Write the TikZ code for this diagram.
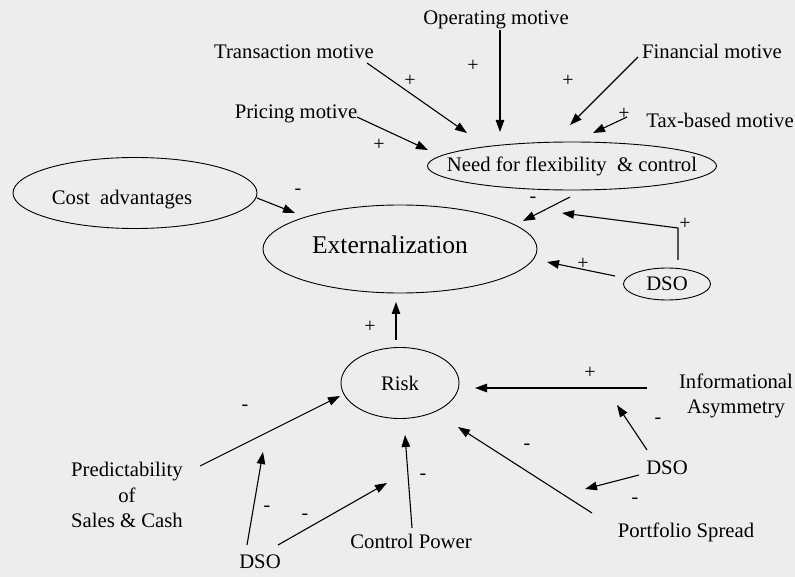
\documentclass[tikz,border=0pt]{standalone}
\usepackage{fontspec}
\setmainfont{Liberation Serif}
\usetikzlibrary{arrows.meta,shapes.geometric}
\definecolor{bgdot}{RGB}{237,237,237}
\begin{document}
\begin{tikzpicture}[x=1pt,y=-1pt,
  lbl/.style={inner sep=0pt, font=\fontsize{20.7}{25.5}\selectfont},
  oval/.style={draw, ellipse, line width=0.9pt, inner sep=-60pt, font=\fontsize{20.7}{25.5}\selectfont},
  arr/.style={-{Triangle[length=12pt,width=8.5pt]}, line width=1.1pt},
  sgn/.style={inner sep=0pt, font=\fontsize{20}{20}\selectfont}]
\fill[bgdot] (0,0) rectangle (795,577);
\useasboundingbox (0,0) rectangle (795,577);

% text nodes
\node[lbl] (op)  at (496,19.5) {Operating motive};
\node[lbl] (tr)  at (294,52)   {Transaction motive};
\node[lbl] (pr)  at (296,114)  {Pricing motive};
\node[lbl] (fi)  at (712,51)   {Financial motive};
\node[lbl] (tax) at (720,120)  {Tax-based motive};
\node[lbl, align=center] (info) at (736,396) {Informational\\Asymmetry};
\node[lbl] (dso2) at (667,468) {DSO};
\node[lbl] (port) at (686,532) {Portfolio Spread};
\node[lbl] (ctrl) at (411,541) {Control Power};
\node[lbl] (dso3) at (260,562) {DSO};
\node[lbl, align=center] (pred) at (127,495) {Predictability\\of\\Sales \& Cash};

% ellipses
\node[oval, minimum width=289pt, minimum height=48pt] (need) at (572,166) {Need for flexibility\ \ \& control};
\node[oval, minimum width=244pt, minimum height=71pt, text height=27.7pt, text depth=4.5pt] (cost) at (135,193) {Cost\ \ advantages\hspace*{26pt}};
\node[oval, minimum width=274pt, minimum height=88pt, font=\fontsize{25.5}{30}\selectfont, text height=17.4pt, text depth=8pt] (ext) at (400,249) {Externalization\hspace*{20pt}};
\node[oval, minimum width=87pt, minimum height=32pt] (dso1) at (667,284) {DSO};
\node[oval, minimum width=118pt, minimum height=71pt] (risk) at (400,383) {Risk};

% arrow end points
\coordinate (e1) at (500,132);
\coordinate (e2) at (467,133);
\coordinate (e3) at (428,150);
\coordinate (e4) at (570,125);
\coordinate (e5) at (593,133);
\coordinate (e6) at (295,213);
\coordinate (e7) at (523,221);
\coordinate (c8) at (678,228);
\coordinate (e8) at (562,213);
\coordinate (e9) at (547,262);
\coordinate (e10) at (396,302);
\coordinate (e11) at (475,388);
\coordinate (e12) at (340,396);
\coordinate (e13) at (263,452);
\coordinate (e14) at (387,483);
\coordinate (e15) at (405,435);
\coordinate (e16) at (458,427);
\coordinate (e17) at (617,405);
\coordinate (e18) at (585,489);

% arrows
\draw[arr] ([shift={(4pt,-10.5pt)}]op.center) -- (e1);
\draw[arr] ([shift={(73pt,-11pt)}]tr.center) -- (e2);
\draw[arr] ([shift={(61pt,-3pt)}]pr.center) -- (e3);
\draw[arr] ([shift={(-74pt,-6pt)}]fi.center) -- (e4);
\draw[arr] ([shift={(-93pt,3pt)}]tax.center) -- (e5);
\draw[arr] ([shift={(122pt,-5pt)}]cost.center) -- (e6);
\draw[arr] ([shift={(-2pt,-31pt)}]need.center) -- (e7);
\draw[arr] ([shift={(11pt,24pt)}]dso1.center) -- (c8) -- (e8);
\draw[arr] ([shift={(-52pt,8pt)}]dso1.center) -- (e9);
\draw[arr] ([shift={(-4pt,43pt)}]risk.center) -- (e10);
\draw[arr] ([shift={(-89pt,8pt)}]info.center) -- (e11);
\draw[arr] ([shift={(73pt,29pt)}]pred.center) -- (e12);
\draw[arr] ([shift={(-13pt,17pt)}]dso3.center) -- (e13);
\draw[arr] ([shift={(18pt,17pt)}]dso3.center) -- (e14);
\draw[arr] ([shift={(1pt,13pt)}]ctrl.center) -- (e15);
\draw[arr] ([shift={(-94pt,19pt)}]port.center) -- (e16);
\draw[arr] ([shift={(-20pt,18pt)}]dso2.center) -- (e17);
\draw[arr] ([shift={(-28pt,-7pt)}]dso2.center) -- (e18);

% signs
\node[sgn] (s1)  at (410,81)  {+};
\node[sgn] (s2)  at (473,66)  {+};
\node[sgn] (s3)  at (568,81)  {+};
\node[sgn] (s4)  at (379,145) {+};
\node[sgn] (s5)  at (624,114) {+};
\node[sgn] (s6)  at (298,192) {-};
\node[sgn] (s7)  at (533,200) {-};
\node[sgn] (s8)  at (685,224) {+};
\node[sgn] (s9)  at (583,264) {+};
\node[sgn] (s10) at (370,327) {+};
\node[sgn] (s11) at (590,373) {+};
\node[sgn] (s12) at (658,421) {-};
\node[sgn] (s13) at (527,447) {-};
\node[sgn] (s14) at (635,501) {-};
\node[sgn] (s15) at (423,477) {-};
\node[sgn] (s16) at (245,408) {-};
\node[sgn] (s17) at (267,509) {-};
\node[sgn] (s18) at (305,517) {-};
\end{tikzpicture}
\end{document}
